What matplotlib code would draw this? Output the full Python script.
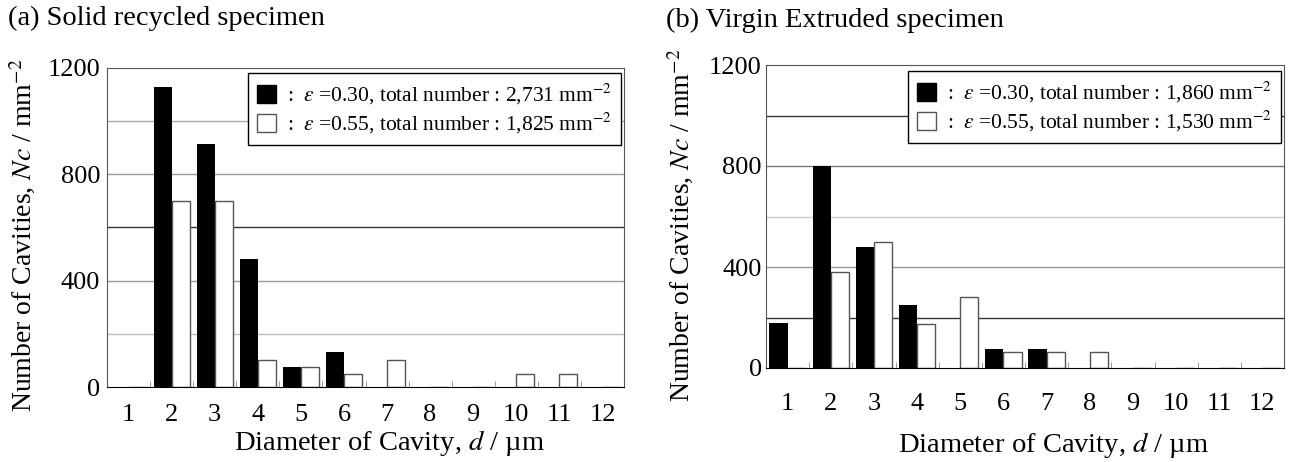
import numpy as np
import matplotlib.pyplot as plt
from matplotlib.patches import Patch

plt.rcParams['font.family'] = ['Liberation Serif', 'DejaVu Serif']
plt.rcParams['mathtext.fontset'] = 'stix'

# cavity diameter classes (um)
diameters = np.arange(1, 13)
tick_labels = [str(d) for d in diameters]

# (a) solid recycled specimen, Nc per mm^2
recycled_030 = [0, 1130, 915, 480, 75, 130, 0, 0, 0, 0, 0, 0]
recycled_055 = [0, 700, 700, 100, 75, 50, 100, 0, 0, 50, 50, 0]
recycled_totals = ["2,731", "1,825"]

# (b) virgin extruded specimen
virgin_030 = [180, 800, 480, 250, 0, 75, 75, 0, 0, 0, 0, 0]
virgin_055 = [0, 380, 500, 175, 280, 65, 65, 65, 0, 0, 0, 0]
virgin_totals = ["1,860", "1,530"]

strains = ["0.30", "0.55"]
grid_levels = [200, 400, 600, 800, 1000]

W, H = 1295, 462
fig = plt.figure(figsize=(W / 100, H / 100), dpi=100)


def px_axes(left, top, right, bottom):
    return fig.add_axes([left / W, 1 - bottom / H, (right - left) / W, (bottom - top) / H])


def draw_panel(ax, black, white, totals, grid_colors, xpad, ypad, legend_top):
    w = 0.42
    for lev, c in zip(grid_levels, grid_colors):
        ax.axhline(lev, color=c, lw=1, zorder=0)
    ax.bar(diameters - w / 2, black, width=w, color='black', zorder=2)
    ax.bar(diameters + w / 2, white, width=w, color='white',
           edgecolor='#555555', lw=1, zorder=2)
    ax.set_xlim(0.5, 12.5)
    ax.set_ylim(0, 1200)
    ax.set_xticks(diameters)
    ax.set_xticklabels(tick_labels)
    ax.set_xticks(diameters[:-1] + 0.5, minor=True)
    ax.set_yticks([0, 400, 800, 1200])
    ax.tick_params(axis='x', which='major', length=0, pad=xpad, labelsize=19)
    ax.tick_params(axis='x', which='minor', direction='in', length=4, color='#888888')
    ax.tick_params(axis='y', length=0, pad=ypad, labelsize=19)
    for s in ['left', 'top', 'right']:
        ax.spines[s].set_color('#555555')
    ax.spines['bottom'].set_color('black')

    handles = [Patch(facecolor='black', edgecolor='black'),
               Patch(facecolor='white', edgecolor='#555555')]
    labels = [r":  $\varepsilon$ =%s, total number : %s mm$^{-2}$" % (s, t)
              for s, t in zip(strains, totals)]
    leg = ax.legend(handles, labels, loc='upper right', bbox_to_anchor=(0.994, legend_top),
                    fontsize=15.5, handlelength=0.92, handleheight=0.92, handletextpad=0.5,
                    borderaxespad=0, fancybox=False, framealpha=1, borderpad=0.4,
                    labelspacing=0.2)
    leg.get_frame().set_edgecolor('black')
    leg.get_frame().set_linewidth(1)


ax1 = px_axes(107, 68, 624, 387)
draw_panel(ax1, recycled_030, recycled_055, recycled_totals,
           ['#bbbbbb', '#999999', '#333333', '#999999', '#aaaaaa'], 12, 5, 0.984)
ax1.set_ylabel(r"Number of Cavities, $Nc$ / mm$^{-2}$", fontsize=20)
ax1.yaxis.set_label_coords(-0.133, 0.476)
ax1.set_xlabel(r"Diameter of Cavity, $d$ / µm", fontsize=20.5)
ax1.xaxis.set_label_coords(0.547, -0.13)

ax2 = px_axes(766, 65, 1284, 368)
draw_panel(ax2, virgin_030, virgin_055, virgin_totals,
           ['#333333', '#999999', '#cccccc', '#777777', '#333333'], 18, 3, 0.98)
ax2.set_ylabel(r"Number of Cavities, $Nc$ / mm$^{-2}$", fontsize=20)
ax2.yaxis.set_label_coords(-0.135, 0.472)
ax2.set_xlabel(r"Diameter of Cavity, $d$ / µm", fontsize=20.5)
ax2.xaxis.set_label_coords(0.554, -0.205)

fig.text(8 / W, 1 - 18 / H, "(a) Solid recycled specimen", fontsize=20.5, va='center', ha='left')
fig.text(666 / W, 1 - 20 / H, "(b) Virgin Extruded specimen", fontsize=20.5, va='center', ha='left')

fig.savefig("out.png", dpi=100)
